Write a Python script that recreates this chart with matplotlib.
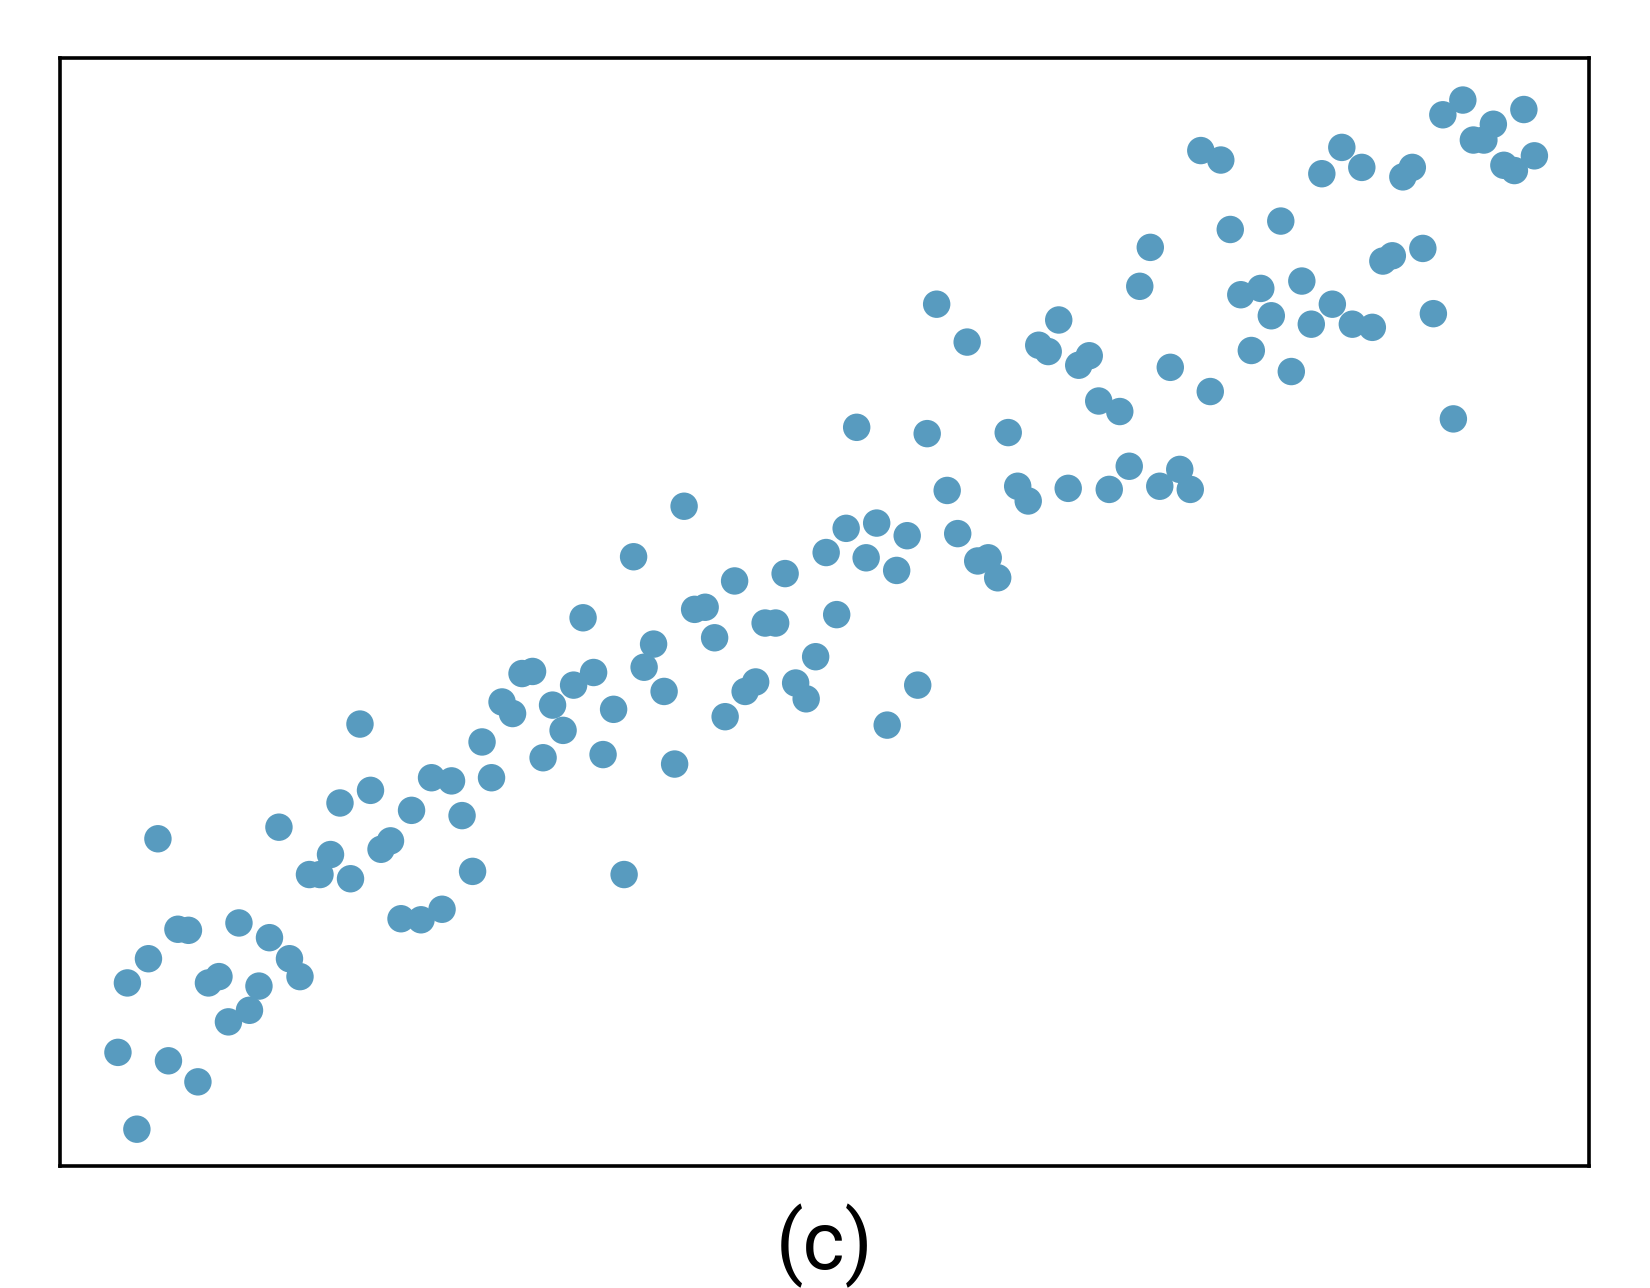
import matplotlib.pyplot as plt

# point positions (x across, y up)
x = [112, 130, 121, 141, 150, 160, 169, 179, 188, 198, 208, 217, 227, 237, 246,
     256, 265, 275, 285, 294, 304, 314, 323, 333, 342, 352, 362, 371, 381, 391,
     400, 410, 420, 429, 439, 449, 458, 467, 477, 487, 496, 506, 516, 525, 535,
     545, 554, 564, 573, 583, 593, 602, 612, 621, 631, 641, 650, 660, 670, 679,
     689, 698, 708, 718, 727, 737, 746, 756, 766, 775, 785, 795, 804, 814, 823,
     833, 843, 852, 862, 872, 881, 890, 900, 910, 919, 929, 939, 948, 958, 967,
     977, 987, 996, 1006, 1015, 1025, 1035, 1044, 1054, 1064, 1073, 1083, 1093,
     1102, 1112, 1121, 1131, 1141, 1150, 1160, 1169, 1179, 1189, 1198, 1208,
     1217, 1227, 1237, 1246, 1256, 1266, 1275, 1285, 1294, 1304, 1314, 1323,
     1333, 1342, 1352, 1362, 1371, 1381, 1390, 1400, 1410, 1419, 1429, 1439,
     1448, 1458]
py = [1000, 1073, 934, 911, 797, 1008, 883, 884, 1028, 934, 928, 971, 877, 960,
      937, 891, 786, 911, 928, 831, 831, 812, 763, 835, 688, 751, 807, 799, 873,
      770, 874, 739, 864, 742, 775, 828, 705, 739, 667, 678, 640, 638, 720, 670,
      694, 651, 587, 639, 717, 674, 831, 529, 634, 612, 657, 726, 481, 579, 577,
      606, 681, 552, 657, 648, 592, 592, 545, 649, 664, 624, 525, 584, 502, 406,
      530, 497, 689, 542, 509, 651, 412, 289, 466, 507, 325, 533, 530, 549, 411,
      462, 476, 328, 334, 304, 464, 347, 338, 381, 465, 391, 443, 272, 235, 462,
      349, 446, 465, 143, 372, 152, 218, 280, 333, 274, 300, 210, 353, 267, 308,
      165, 289, 140, 308, 159, 311, 248, 243, 168, 159, 236, 298, 109, 398, 95,
      133, 133, 118, 157, 162, 104, 148]
y = [1108 - v for v in py]

fig = plt.figure(figsize=(16.5, 12.88), dpi=100)
ax = fig.add_axes([0.0364, 0.0947, 0.9267, 0.8603])
ax.scatter(x, y, s=390, color='#589bbf', edgecolors='none', zorder=3)
ax.set_xlim(57, 1510)
ax.set_ylim(0, 1053)
ax.set_xticks([])
ax.set_yticks([])
for sp in ax.spines.values():
    sp.set_linewidth(2.6)

fig.text(0.5, 0.033, '(c)', ha='center', va='center', fontsize=58,
         family=['Roboto', 'DejaVu Sans'])

fig.savefig('out.png', dpi=100)
